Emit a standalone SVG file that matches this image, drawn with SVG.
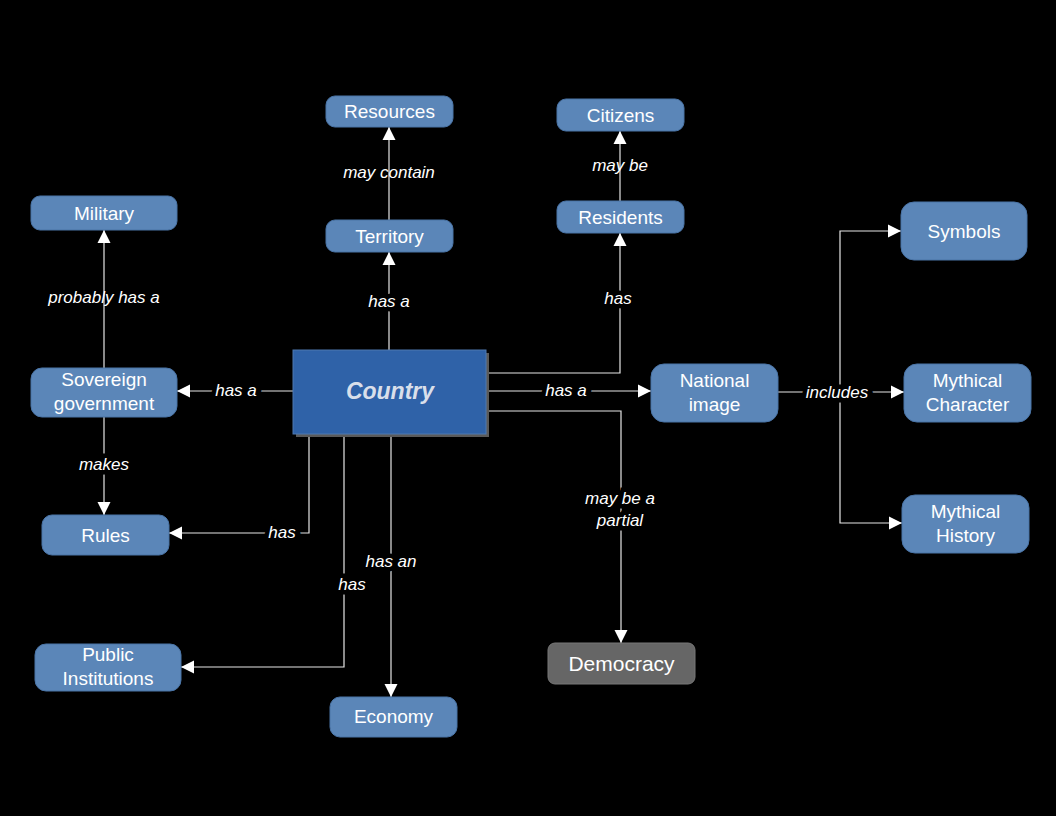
<svg xmlns="http://www.w3.org/2000/svg" width="1056" height="816" viewBox="0 0 1056 816">
<defs>
<marker id="arr" markerWidth="14" markerHeight="14" refX="13" refY="7" orient="auto" markerUnits="userSpaceOnUse">
<path d="M0,0.5 L13,7 L0,13.5 Z" fill="#ffffff"/>
</marker>
<style>
.node rect{fill:#5b86b8;stroke:#4a74a6;stroke-width:1}
.node text{font-family:"Liberation Sans",Arial,sans-serif;font-size:19px;fill:#ffffff;text-anchor:middle}
.conn path{fill:none;stroke:#e6e6e6;stroke-width:1.2}
.lbl{font-family:"Liberation Sans",Arial,sans-serif;font-size:17px;font-style:italic;fill:#ffffff;text-anchor:middle}
.bg{stroke:#000;stroke-width:9;paint-order:stroke}
</style>
</defs>
<rect width="1056" height="816" fill="#000"/>
<g id="connectors" class="conn">
<path d="M389,350 V252" marker-end="url(#arr)"/>
<path d="M389,220 V127" marker-end="url(#arr)"/>
<path d="M487,373 H620 V233" marker-end="url(#arr)"/>
<path d="M620,201 V131" marker-end="url(#arr)"/>
<path d="M293,391 H177" marker-end="url(#arr)"/>
<path d="M104,368 V230" marker-end="url(#arr)"/>
<path d="M104,417 V515" marker-end="url(#arr)"/>
<path d="M309,434 V533 H169" marker-end="url(#arr)"/>
<path d="M344,434 V667 H181" marker-end="url(#arr)"/>
<path d="M391,434 V697" marker-end="url(#arr)"/>
<path d="M487,391 H651" marker-end="url(#arr)"/>
<path d="M487,411 H621 V643" marker-end="url(#arr)"/>
<path d="M778,392 H904" marker-end="url(#arr)"/>
<path d="M840,392 V231 H901" marker-end="url(#arr)"/>
<path d="M840,392 V523 H902" marker-end="url(#arr)"/>
</g>
<g id="labels">
<text class="lbl bg" x="389" y="307">has a</text>
<text class="lbl" x="389" y="178">may contain</text>
<text class="lbl bg" x="618" y="304">has</text>
<text class="lbl" x="620" y="171">may be</text>
<text class="lbl bg" x="236" y="396">has a</text>
<text class="lbl" x="104" y="303">probably has a</text>
<text class="lbl bg" x="104" y="470">makes</text>
<text class="lbl bg" x="282" y="538">has</text>
<text class="lbl bg" x="352" y="590">has</text>
<text class="lbl bg" x="391" y="567">has an</text>
<text class="lbl bg" x="566" y="396">has a</text>
<text class="lbl bg" x="620" y="504">may be a<tspan x="620" dy="22">partial</tspan></text>
<text class="lbl bg" x="837" y="398">includes</text>
</g>
<g id="node-country">
<rect x="296" y="353" width="193" height="84" fill="#5a5a5a"/>
<rect x="293" y="350" width="193" height="84" fill="#2f62a8" stroke="#4f78b0" stroke-width="1"/>
<text x="390" y="399" font-family="'Liberation Sans',Arial,sans-serif" font-size="23" font-weight="bold" font-style="italic" fill="#d9dfea" text-anchor="middle">Country</text>
</g>
<g id="node-resources" class="node"><rect x="326" y="96" width="127" height="31" rx="9"/><text x="389.5" y="118">Resources</text></g>
<g id="node-citizens" class="node"><rect x="557" y="99" width="127" height="32" rx="9"/><text x="620.5" y="122">Citizens</text></g>
<g id="node-military" class="node"><rect x="31" y="196" width="146" height="34" rx="9"/><text x="104" y="220">Military</text></g>
<g id="node-territory" class="node"><rect x="326" y="220" width="127" height="32" rx="9"/><text x="389.5" y="243">Territory</text></g>
<g id="node-residents" class="node"><rect x="557" y="201" width="127" height="32" rx="9"/><text x="620.5" y="224">Residents</text></g>
<g id="node-symbols" class="node"><rect x="901" y="202" width="126" height="58" rx="13"/><text x="964" y="238">Symbols</text></g>
<g id="node-sovereign" class="node"><rect x="31" y="368" width="146" height="49" rx="11"/><text x="104" y="386">Sovereign<tspan x="104" dy="24">government</tspan></text></g>
<g id="node-national" class="node"><rect x="651" y="364" width="127" height="58" rx="13"/><text x="714.5" y="387">National<tspan x="714.5" dy="24">image</tspan></text></g>
<g id="node-mythchar" class="node"><rect x="904" y="364" width="127" height="58" rx="13"/><text x="967.5" y="387">Mythical<tspan x="967.5" dy="24">Character</tspan></text></g>
<g id="node-rules" class="node"><rect x="42" y="515" width="127" height="40" rx="10"/><text x="105.5" y="542">Rules</text></g>
<g id="node-mythhist" class="node"><rect x="902" y="495" width="127" height="58" rx="13"/><text x="965.5" y="518">Mythical<tspan x="965.5" dy="24">History</tspan></text></g>
<g id="node-public" class="node"><rect x="35" y="644" width="146" height="47" rx="11"/><text x="108" y="661">Public<tspan x="108" dy="24">Institutions</tspan></text></g>
<g id="node-economy" class="node"><rect x="330" y="697" width="127" height="40" rx="10"/><text x="393.5" y="723">Economy</text></g>
<g id="node-democracy"><rect x="548" y="643" width="147" height="41" rx="7" fill="#666666" stroke="#777" stroke-width="1"/><text x="621.5" y="671" font-family="'Liberation Sans',Arial,sans-serif" font-size="21" fill="#ffffff" text-anchor="middle">Democracy</text></g>
</svg>
